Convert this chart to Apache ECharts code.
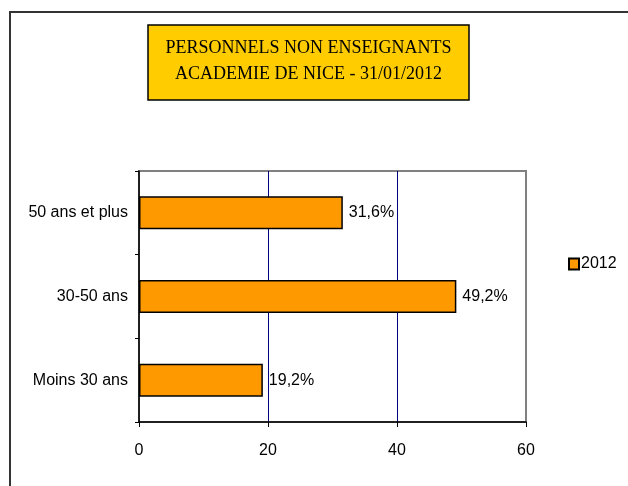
<!DOCTYPE html>
<html lang="fr">
<head>
<meta charset="UTF-8">
<title>Personnels non enseignants</title>
<script src="https://cdn.jsdelivr.net/npm/echarts@6/dist/echarts.min.js"></script>
<style>
  html, body { margin: 0; padding: 0; background: #fff; }
  #chart { width: 628px; height: 486px; }
</style>
</head>
<body>
<div id="chart"></div>
<script>
// donnees
var categories = ['Moins 30 ans', '30-50 ans', '50 ans et plus'];
var values2012 = [19.2, 49.2, 31.6];
var seriesName = '2012';
var titleLines = ['PERSONNELS NON ENSEIGNANTS', 'ACADEMIE DE NICE - 31/01/2012'];
var xTicks = [0, 20, 40, 60];

var sans = "'Liberation Sans', Arial, sans-serif";

var chart = echarts.init(document.getElementById('chart'));

var option = {
  animation: false,
  backgroundColor: '#fff',
  graphic: [
    // cadre exterieur
    { type: 'rect', shape: { x: 10, y: 12, width: 700, height: 600 },
      style: { fill: 'none', stroke: '#333', lineWidth: 2 }, silent: true },
    // boite du titre
    { type: 'rect', shape: { x: 148, y: 25, width: 321, height: 75 },
      style: { fill: '#FFCC00', stroke: '#000', lineWidth: 1.5 }, silent: true },
    { type: 'text', x: 308.5, y: 61.5,
      style: { text: titleLines.join('\n'), align: 'center', verticalAlign: 'middle',
               fill: '#000', font: '18px "Liberation Serif", "Times New Roman", serif',
               lineHeight: 26 }, silent: true }
  ],
  legend: {
    data: [{ name: seriesName, icon: 'rect' }],
    left: 563, top: 251,
    itemWidth: 10, itemHeight: 11, itemGap: 4,
    textStyle: { fontFamily: sans, fontSize: 16, color: '#000', padding: [0, 0, 0, -3] }
  },
  grid: {
    left: 139, top: 171, right: 102, bottom: 64,
    show: true, borderColor: '#808080', borderWidth: 2, backgroundColor: 'transparent'
  },
  xAxis: {
    type: 'value',
    min: xTicks[0], max: xTicks[xTicks.length - 1], interval: 20,
    axisLine: { show: true, lineStyle: { color: '#000', width: 1.5 } },
    axisTick: { show: true, length: 5, lineStyle: { color: '#000' } },
    axisLabel: { color: '#000', fontFamily: sans, fontSize: 16, margin: 21 },
    splitLine: { show: true, showMinLine: false, showMaxLine: false,
                 lineStyle: { color: '#000080', width: 1 } }
  },
  yAxis: {
    type: 'category',
    data: categories,
    axisLine: { show: true, lineStyle: { color: '#000', width: 1.5 } },
    axisTick: { show: true, length: 4, lineStyle: { color: '#000' } },
    axisLabel: { color: '#000', fontFamily: sans, fontSize: 16, margin: 11 }
  },
  series: [{
    name: seriesName,
    type: 'bar',
    data: values2012,
    barWidth: 33,
    itemStyle: { color: '#FF9900', borderColor: '#000', borderWidth: 1.5 },
    label: {
      show: true, position: 'right', distance: 6,
      color: '#000', fontFamily: sans, fontSize: 16,
      formatter: function (p) { return p.value.toFixed(1).replace('.', ',') + '%'; }
    }
  }]
};

chart.setOption(option);
</script>
</body>
</html>
